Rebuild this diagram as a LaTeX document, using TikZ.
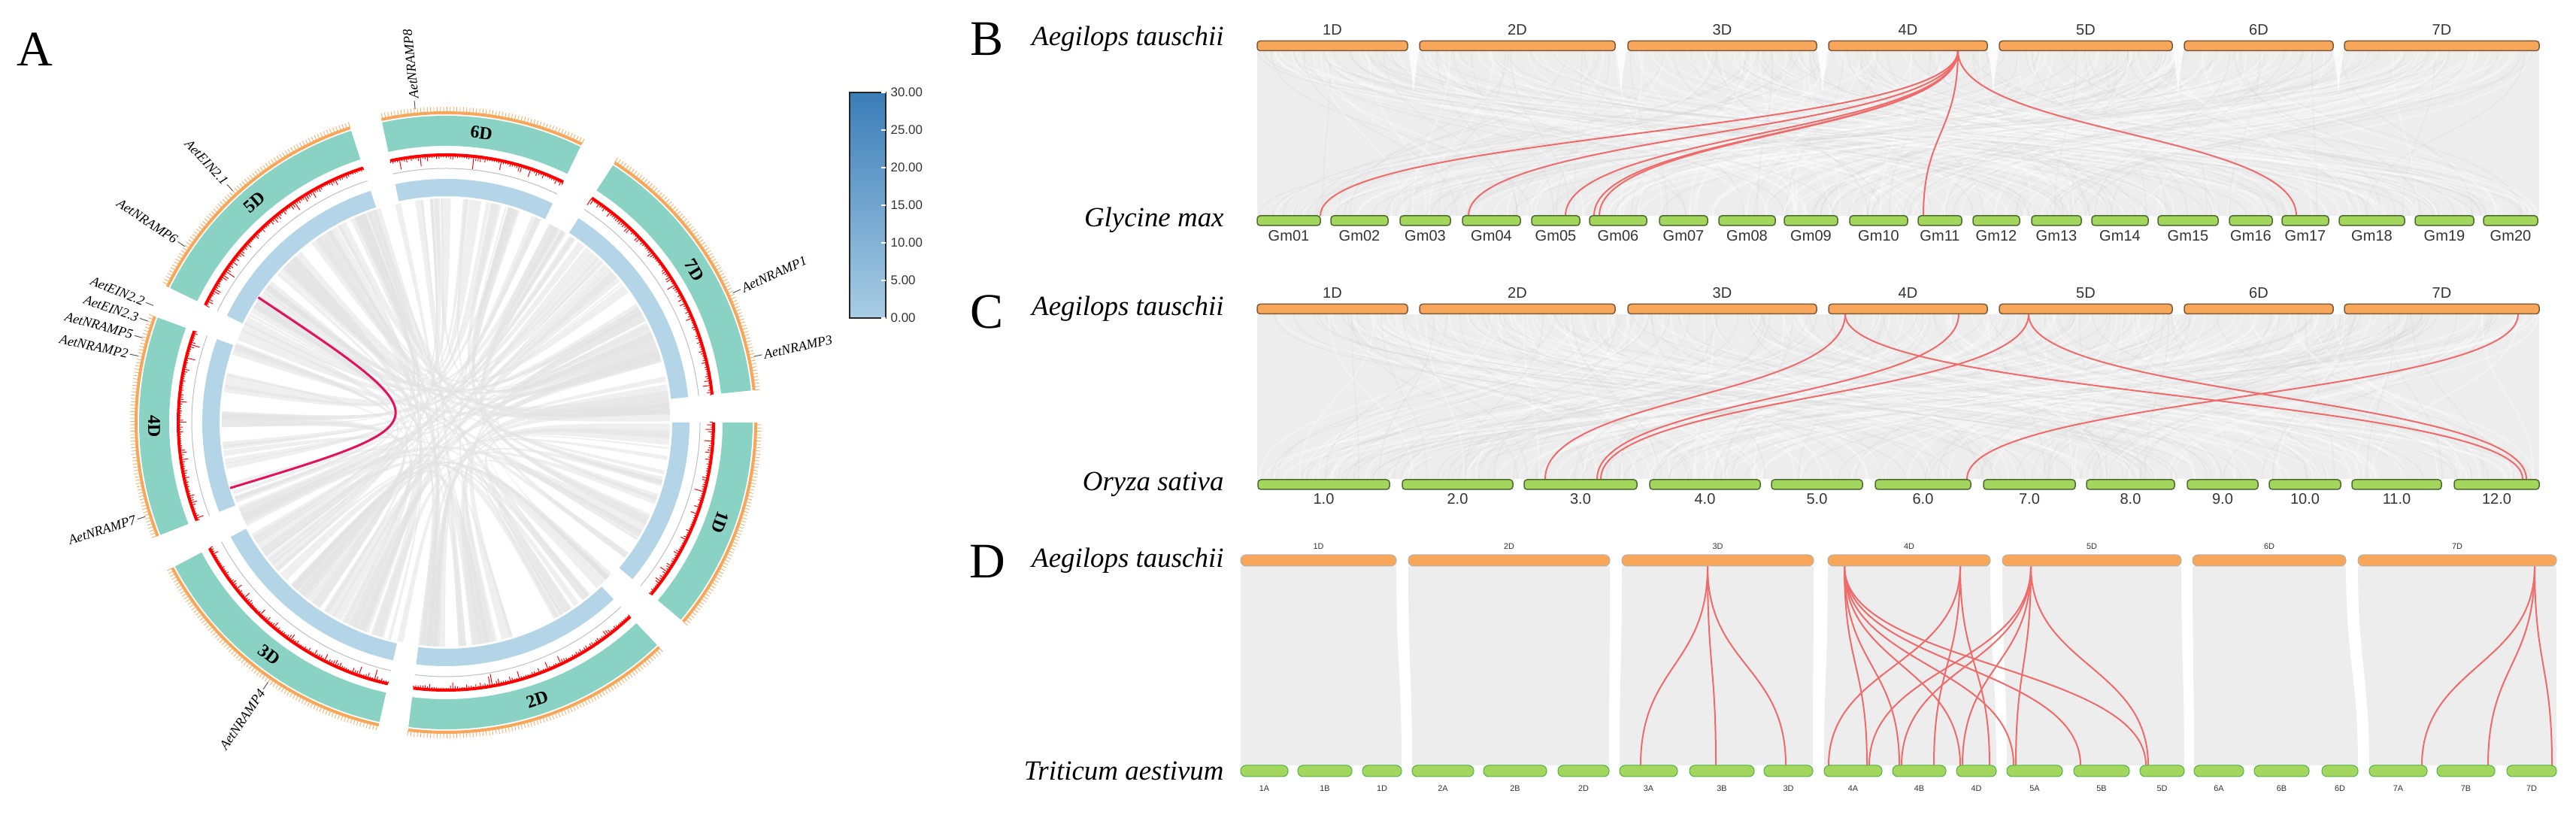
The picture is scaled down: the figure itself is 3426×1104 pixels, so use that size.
\documentclass[tikz,border=0pt]{standalone}
\usepackage{fontspec}
\setmainfont{Liberation Serif}
\setsansfont{Liberation Sans}
\usetikzlibrary{positioning, calc}

\definecolor{chrteal}{HTML}{8AD2C3}
\definecolor{chrorange}{HTML}{F8A65A}
\definecolor{barbrown}{HTML}{7A5C3C}
\definecolor{bargreen}{HTML}{A3D65C}
\definecolor{bardkgreen}{HTML}{4E6B30}
\definecolor{trkblue}{HTML}{B4D4E7}
\definecolor{linkpink}{HTML}{E2125C}
\definecolor{synred}{HTML}{F06A6A}
\definecolor{synbg}{HTML}{EDEDED}
\definecolor{lblgray}{HTML}{333333}
\definecolor{legtop}{HTML}{3B7DB8}
\definecolor{legbot}{HTML}{A8CDE4}

\newlength\px
\setlength\px{0.01cm}

% one bar of a synteny plot, as a named node
\newcommand\chrbar[5]{%
  \pgfmathsetmacro\cbw{#4-#3}%
  \pgfmathsetmacro\cbx{(#3+#4)/2}%
  \node[#1, minimum width=\cbw\px] (#2) at (\cbx,#5) {};}
% curved link between two named points
\newcommand\synt[2]{\draw[synline] (#1) .. controls ($(#1)!.5!(#1|-#2)$) and ($(#2)!.5!(#2|-#1)$) .. (#2);}

\tikzset{
  panel/.style={font=\fontsize{18.8pt}{20pt}\selectfont},
  species/.style={font=\fontsize{10.5pt}{12pt}\selectfont\itshape, anchor=east},
  topbar/.style={draw=barbrown, fill=chrorange, rounded corners=4\px, minimum height=13\px, inner sep=0pt, line width=1.5\px},
  gmbar/.style={draw=bardkgreen, fill=bargreen, rounded corners=4\px, minimum height=13\px, inner sep=0pt, line width=1.5\px},
  dtopbar/.style={draw=gray!60, fill=chrorange, rounded corners=7\px, minimum height=15\px, inner sep=0pt, line width=1\px},
  dbotbar/.style={draw=gray!60!green, fill=bargreen, rounded corners=7\px, minimum height=15\px, inner sep=0pt, line width=1\px},
  barlbl/.style={font=\sffamily\fontsize{5.7pt}{6pt}\selectfont, text=lblgray, inner sep=0pt},
  tinylbl/.style={font=\sffamily\fontsize{3.1pt}{3.5pt}\selectfont, text=lblgray, inner sep=0pt},
  synline/.style={draw=synred, line width=2\px},
  graylink/.style={draw=white, line width=2.5\px, opacity=.3},
  darklink/.style={draw=gray!30, line width=1.5\px, opacity=.35},
  ribbon/.style={fill=gray!22, opacity=.55},
  chrname/.style={font=\bfseries\fontsize{6.8pt}{7pt}\selectfont, inner sep=0pt},
  genelbl/.style={font=\itshape\fontsize{5.1pt}{6pt}\selectfont, inner sep=0pt},
  leglbl/.style={font=\sffamily\fontsize{4.8pt}{5pt}\selectfont, text=lblgray, anchor=west, inner sep=0pt}
}

\begin{document}
\begin{tikzpicture}[x=0.01cm, y=-0.01cm]
\useasboundingbox (0,0) rectangle (3426,1104);
\fill[white] (0,0) rectangle (3426,1104);

% ---------------- A: circos plot ----------------
\node[panel] (labA) at (46,66) {A};
\begin{scope}[shift={(593,562)}, y=0.01cm]
  % grey collinear links
  \pgfmathsetseed{11}
  \foreach \i in {1,...,120}{
    \pgfmathsetmacro\aa{rnd*360}
    \pgfmathsetmacro\wa{0.3+rnd*3.2}
    \pgfmathsetmacro\bb{\aa+40+rnd*280}
    \fill[ribbon] (\aa:298) arc[start angle=\aa, end angle=\aa+\wa, radius=298]
      .. controls (0,0) .. (\bb:298) arc[start angle=\bb, end angle=\bb+\wa, radius=298]
      .. controls (0,0) .. (\aa:298);
  }
  % the one highlighted pair
  \coordinate (pa) at (146.3:300);
  \coordinate (pb) at (196.9:300);
  \draw[linkpink, line width=3\px] (pa) .. controls (0,0) .. (pb);

  % chromosome tracks
  \foreach \c/\s/\e/\lr in {1D/0/-40/-110, 2D/-46.5/-97/18.25, 3D/-102.5/-152/-37.25,
      4D/-158.5/-200/-89.25, 5D/-206/-252/41, 6D/-258/-296/-7, 7D/-303/-354/-58.5}{
    \fill[trkblue] (\s:301) arc[start angle=\s, end angle=\e, radius=301]
      -- (\e:324) arc[start angle=\e, end angle=\s, radius=324] -- cycle;
    \draw[gray!50, line width=1\px] (\s:338) arc[start angle=\s, end angle=\e, radius=338];
    \draw[red, line width=4\px] (\s:356) arc[start angle=\s, end angle=\e, radius=356];
    \pgfmathtruncatemacro\ns{(\s-\e)*2}
    \foreach \k in {0,...,\ns}{
      \pgfmathsetmacro\t{\e+\k/2}
      \pgfmathsetmacro\l{2+rnd*rnd*rnd*16}
      \draw[red, line width=1\px] (\t:355) -- (\t:{355-\l});
    }
    \fill[chrteal] (\s:368) arc[start angle=\s, end angle=\e, radius=368]
      -- (\e:408) arc[start angle=\e, end angle=\s, radius=408] -- cycle;
    \draw[chrorange, line width=4\px] (\s:412) arc[start angle=\s, end angle=\e, radius=412];
    \pgfmathtruncatemacro\nt{(\s-\e)/0.6}
    \foreach \k in {0,...,\nt}{
      \pgfmathsetmacro\t{\e+0.6*\k}
      \draw[chrorange, line width=0.8\px] (\t:413) -- (\t:420);
    }
    \pgfmathsetmacro\m{(\s+\e)/2}
    \node[chrname, rotate=\lr] (chr\c) at (\m:388) {\c};
  }

  % gene labels, right side
  \foreach \a/\g in {95.6/AetNRAMP8, 24.3/AetNRAMP1, 12.1/AetNRAMP3}{
    \draw[gray!70!black, line width=1\px] (\a:419) -- (\a:430);
    \node[genelbl, rotate=\a, anchor=west] (g\g) at (\a:432) {\g};
  }
  % gene labels, left side
  \foreach \a/\g in {132.6/AetEIN2.1, 146/AetNRAMP6, 158.2/AetEIN2.2, 161.2/AetEIN2.3,
      164.4/AetNRAMP5, 167.8/AetNRAMP2, 197.4/AetNRAMP7, 235.6/AetNRAMP4}{
    \draw[gray!70!black, line width=1\px] (\a:419) -- (\a:430);
    \node[genelbl, rotate=\a-180, anchor=east] (g\g) at (\a:432) {\g};
  }
\end{scope}

% heat-map legend
\shade[top color=legtop, bottom color=legbot] (1130,123) rectangle (1178,423);
\draw[black!85, line width=1.5\px] (1130,123) rectangle (1178,423);
\foreach \k/\v in {0/0.00, 1/5.00, 2/10.00, 3/15.00, 4/20.00, 5/25.00, 6/30.00}{
  \draw[white, line width=1.5\px] (1172,423-50*\k) -- (1178,423-50*\k);
  \node[leglbl] (leg\k) at (1184,423-50*\k) {\v};
}

% ---------------- B: Aegilops tauschii vs Glycine max ----------------
\node[panel] (labB) at (1313,52) {B};
\node[species] (spB1) at (1640,52) {Aegilops tauschii};
\node[species] (spB2) at (1640,293) {Glycine max};
\fill[synbg] (1672,68) rectangle (3377,287);
\pgfmathsetseed{5}
\foreach \i in {1,...,140}{
  \pgfmathsetmacro\xa{1672+rnd*1705}
  \pgfmathsetmacro\xb{1672+rnd*1705}
  \pgfmathsetmacro\xc{1672+rnd*1705}
  \pgfmathsetmacro\xd{1672+rnd*1705}
  \draw[graylink] (\xa,68) .. controls (\xa,178) and (\xb,178) .. (\xb,287);
  \draw[darklink] (\xc,68) .. controls (\xc,178) and (\xd,178) .. (\xd,287);
}
\foreach \gx in {1880, 2156, 2424, 2651, 2897, 3110}{
  \fill[white, opacity=.8] (\gx-7,68) .. controls (\gx-2,100) .. (\gx,125) .. controls (\gx+2,100) .. (\gx+7,68) -- cycle;
}
\coordinate (bs4D) at (2604,67.5);
\foreach \x in {1756, 1953, 2082, 2120, 2127, 2558, 3054}{
  \coordinate (bend) at (\x,287);
  \synt{bs4D}{bend}
}
\foreach \c/\xa/\xb in {1D/1672/1872, 2D/1888/2148, 3D/2165/2416, 4D/2432/2643,
    5D/2659/2889, 6D/2905/3103, 7D/3118/3377}{
  \chrbar{topbar}{bt\c}{\xa}{\xb}{61}
  \node[barlbl] (btl\c) at (\cbx,40) {\c};
}
\foreach \g/\xa/\xb in {01/1672/1756, 02/1770/1846, 03/1862/1929, 04/1945/2022, 05/2037/2101,
    06/2114/2190, 07/2207/2271, 08/2286/2361, 09/2373/2444, 10/2460/2537, 11/2551/2609,
    12/2624/2686, 13/2702/2768, 14/2782/2857, 15/2870/2950, 16/2965/3022, 17/3035/3097,
    18/3111/3198, 19/3212/3290, 20/3303/3375}{
  \chrbar{gmbar}{gm\g}{\xa}{\xb}{293.5}
  \node[barlbl] (gml\g) at (\cbx,314) {Gm\g};
}

% ---------------- C: Aegilops tauschii vs Oryza sativa ----------------
\node[panel] (labC) at (1313,415) {C};
\node[species] (spC1) at (1640,411) {Aegilops tauschii};
\node[species] (spC2) at (1640,644) {Oryza sativa};
\fill[synbg] (1672,418) rectangle (3377,637);
\pgfmathsetseed{8}
\foreach \i in {1,...,140}{
  \pgfmathsetmacro\xa{1672+rnd*1705}
  \pgfmathsetmacro\xb{1672+rnd*1705}
  \pgfmathsetmacro\xc{1672+rnd*1705}
  \pgfmathsetmacro\xd{1672+rnd*1705}
  \draw[graylink] (\xa,418) .. controls (\xa,528) and (\xb,528) .. (\xb,637);
  \draw[darklink] (\xc,418) .. controls (\xc,528) and (\xd,528) .. (\xd,637);
}
\coordinate (cs4Da) at (2454,418);
\coordinate (cs4Db) at (2605,418);
\coordinate (cs5D) at (2698,418);
\coordinate (cs7D) at (3349,418);
\coordinate (ce3a) at (2055,637);
\coordinate (ce3b) at (2124,637);
\coordinate (ce3c) at (2129,637);
\coordinate (ce6) at (2616,637);
\coordinate (ce12a) at (3355,637);
\coordinate (ce12b) at (3360,637);
\synt{cs4Da}{ce3a}
\synt{cs4Da}{ce12a}
\synt{cs4Db}{ce3b}
\synt{cs5D}{ce3c}
\synt{cs5D}{ce12b}
\synt{cs7D}{ce6}
\foreach \c/\xa/\xb in {1D/1672/1872, 2D/1888/2148, 3D/2165/2416, 4D/2432/2643,
    5D/2659/2889, 6D/2905/3103, 7D/3118/3377}{
  \chrbar{topbar}{ct\c}{\xa}{\xb}{411}
  \node[barlbl] (ctl\c) at (\cbx,390) {\c};
}
\foreach \r/\xa/\xb in {1/1673/1848, 2/1865/2012, 3/2027/2177, 4/2194/2341, 5/2356/2477,
    6/2494/2621, 7/2638/2760, 8/2775/2892, 9/2909/3003, 10/3018/3113, 11/3128/3247, 12/3264/3377}{
  \chrbar{gmbar}{os\r}{\xa}{\xb}{644.5}
  \node[barlbl] (osl\r) at (\cbx,664) {\r.0};
}

% ---------------- D: Aegilops tauschii vs Triticum aestivum ----------------
\node[panel] (labD) at (1313,747) {D};
\node[species] (spD1) at (1640,746) {Aegilops tauschii};
\node[species] (spD2) at (1640,1025) {Triticum aestivum};
\foreach \ta/\tb/\ba/\bb in {1650/1857/1650/1864, 1873/2141/1878/2140, 2157/2412/2154/2411,
    2431/2647/2426/2655, 2663/2901/2669/2905, 2916/3120/2918/3136, 3136/3400/3151/3400}{
  \fill[synbg] (\ta,753) -- (\tb,753) .. controls (\tb,880) and (\bb,900) .. (\bb,1018)
    -- (\ba,1018) .. controls (\ba,900) and (\ta,880) .. (\ta,753) -- cycle;
}
\coordinate (ds3D) at (2271,753);
\coordinate (ds4Da) at (2453,753);
\coordinate (ds4Db) at (2607,753);
\coordinate (ds5D) at (2701,753);
\coordinate (ds7D) at (3371,753);
\foreach \x in {2182, 2282, 2375}{\coordinate (dend) at (\x,1018); \synt{ds3D}{dend}}
\foreach \x in {2483, 2526, 2607, 2678, 2767, 2854}{\coordinate (dend) at (\x,1018); \synt{ds4Da}{dend}}
\foreach \x in {2432, 2572, 2646}{\coordinate (dend) at (\x,1018); \synt{ds4Db}{dend}}
\foreach \x in {2486, 2529, 2610, 2681, 2857}{\coordinate (dend) at (\x,1018); \synt{ds5D}{dend}}
\foreach \x in {3221, 3309, 3394}{\coordinate (dend) at (\x,1018); \synt{ds7D}{dend}}
\foreach \c/\xa/\xb in {1D/1650/1857, 2D/1873/2141, 3D/2157/2412, 4D/2431/2647,
    5D/2663/2901, 6D/2916/3120, 7D/3136/3400}{
  \chrbar{dtopbar}{dt\c}{\xa}{\xb}{745.5}
  \node[tinylbl] (dtl\c) at (\cbx,727) {\c};
}
\foreach \c/\xa/\xb in {1A/1650/1713, 1B/1726/1798, 1D/1812/1864, 2A/1878/1960, 2B/1973/2057,
    2D/2072/2140, 3A/2154/2231, 3B/2247/2333, 3D/2346/2411, 4A/2426/2503, 4B/2517/2588,
    4D/2602/2655, 5A/2669/2743, 5B/2758/2832, 5D/2846/2905, 6A/2918/2984, 6B/2998/3071,
    6D/3088/3136, 7A/3151/3228, 7B/3241/3318, 7D/3334/3400}{
  \chrbar{dbotbar}{ta\c}{\xa}{\xb}{1025.5}
  \node[tinylbl] (tal\c) at (\cbx,1049) {\c};
}
\end{tikzpicture}
\end{document}
